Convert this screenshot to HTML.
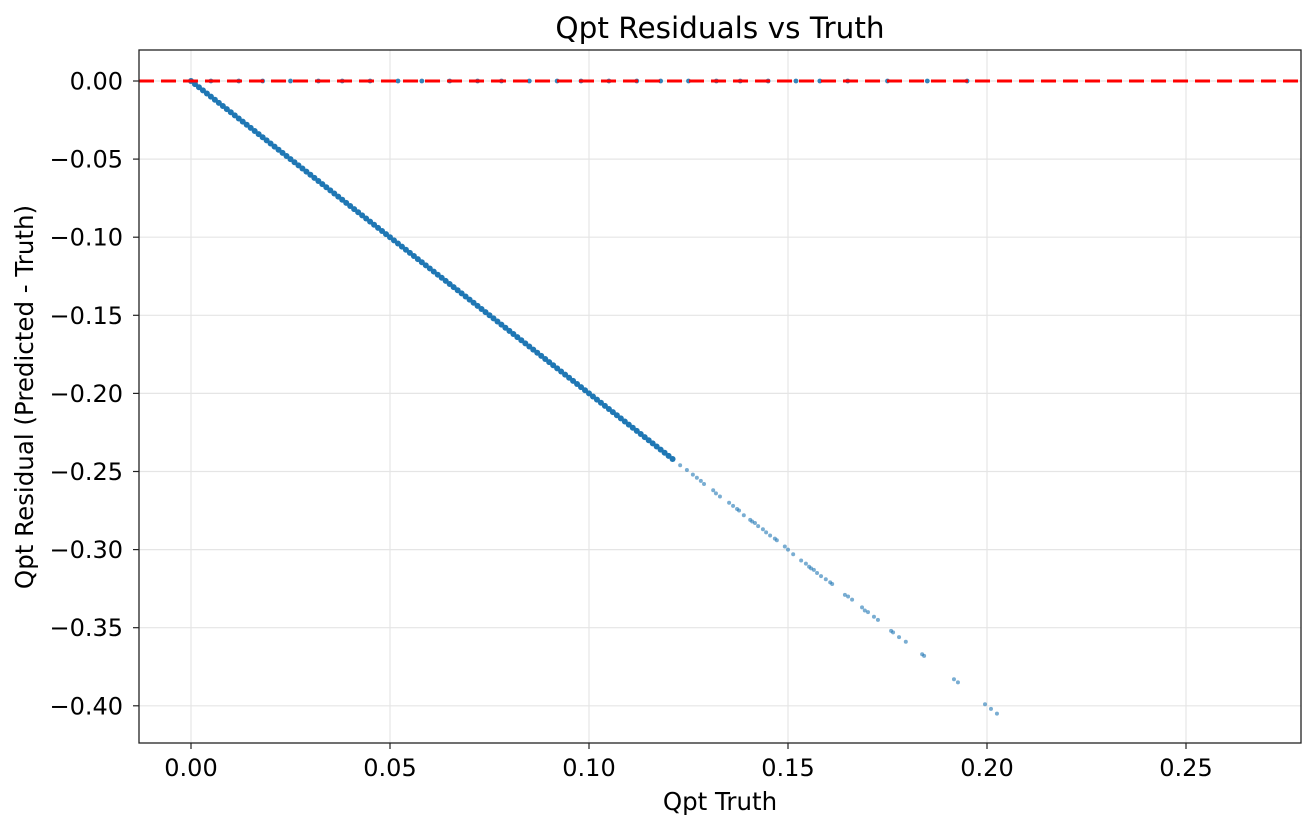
<!DOCTYPE html>
<html><head><meta charset="utf-8"><style>
body{margin:0;background:#fff;}
svg text{font-family:"DejaVu Sans","Liberation Sans",sans-serif;fill:#000;}
</style></head><body>
<svg id="chart" width="1316" height="829" xmlns="http://www.w3.org/2000/svg">
<rect width="1316" height="829" fill="#fff"/>
<g id="grid"></g>
<g id="points"></g>
<line x1="139" x2="1301" y1="81" y2="81" stroke="#ff0000" stroke-width="3" stroke-dasharray="15,7"/>
<rect x="139" y="50" width="1162" height="693" fill="none" stroke="#222" stroke-width="1.3"/>
<g id="ticks"></g>
<text x="720" y="38" font-size="29.5" text-anchor="middle">Qpt Residuals vs Truth</text>
<text x="720" y="810" font-size="24.5" text-anchor="middle">Qpt Truth</text>
<text transform="translate(33,397) rotate(-90)" font-size="24.5" text-anchor="middle">Qpt Residual (Predicted - Truth)</text>
</svg>
<script>
const xTicks=[0,0.05,0.10,0.15,0.20,0.25];
const xTickLabels=["0.00","0.05","0.10","0.15","0.20","0.25"];
const yTicks=[0,-0.05,-0.10,-0.15,-0.20,-0.25,-0.30,-0.35,-0.40];
const yTickLabels=["0.00","\u22120.05","\u22120.10","\u22120.15","\u22120.20","\u22120.25","\u22120.30","\u22120.35","\u22120.40"];
const denseTruth=[0,0.001,0.002,0.003,0.004,0.005,0.006,0.007,0.008,0.009,0.010,0.011,0.012,0.013,0.014,0.015,0.016,0.017,0.018,0.019,0.020,0.021,0.022,0.023,0.024,0.025,0.026,0.027,0.028,0.029,0.030,0.031,0.032,0.033,0.034,0.035,0.036,0.037,0.038,0.039,0.040,0.041,0.042,0.043,0.044,0.045,0.046,0.047,0.048,0.049,0.050,0.051,0.052,0.053,0.054,0.055,0.056,0.057,0.058,0.059,0.060,0.061,0.062,0.063,0.064,0.065,0.066,0.067,0.068,0.069,0.070,0.071,0.072,0.073,0.074,0.075,0.076,0.077,0.078,0.079,0.080,0.081,0.082,0.083,0.084,0.085,0.086,0.087,0.088,0.089,0.090,0.091,0.092,0.093,0.094,0.095,0.096,0.097,0.098,0.099,0.100,0.101,0.102,0.103,0.104,0.105,0.106,0.107,0.108,0.109,0.110,0.111,0.112,0.113,0.114,0.115,0.116,0.117,0.118,0.119,0.120,0.121];
const denseResid=[0,-0.002,-0.004,-0.006,-0.008,-0.010,-0.012,-0.014,-0.016,-0.018,-0.020,-0.022,-0.024,-0.026,-0.028,-0.030,-0.032,-0.034,-0.036,-0.038,-0.040,-0.042,-0.044,-0.046,-0.048,-0.050,-0.052,-0.054,-0.056,-0.058,-0.060,-0.062,-0.064,-0.066,-0.068,-0.070,-0.072,-0.074,-0.076,-0.078,-0.080,-0.082,-0.084,-0.086,-0.088,-0.090,-0.092,-0.094,-0.096,-0.098,-0.100,-0.102,-0.104,-0.106,-0.108,-0.110,-0.112,-0.114,-0.116,-0.118,-0.120,-0.122,-0.124,-0.126,-0.128,-0.130,-0.132,-0.134,-0.136,-0.138,-0.140,-0.142,-0.144,-0.146,-0.148,-0.150,-0.152,-0.154,-0.156,-0.158,-0.160,-0.162,-0.164,-0.166,-0.168,-0.170,-0.172,-0.174,-0.176,-0.178,-0.180,-0.182,-0.184,-0.186,-0.188,-0.190,-0.192,-0.194,-0.196,-0.198,-0.200,-0.202,-0.204,-0.206,-0.208,-0.210,-0.212,-0.214,-0.216,-0.218,-0.220,-0.222,-0.224,-0.226,-0.228,-0.230,-0.232,-0.234,-0.236,-0.238,-0.240,-0.242];
const sparseTruth=[0.1229,0.1246,0.1261,0.1271,0.1281,0.1289,0.1312,0.1319,0.1329,0.1352,0.1362,0.1372,0.1377,0.1389,0.1405,0.1410,0.1417,0.1425,0.1437,0.1445,0.1455,0.1467,0.1472,0.1492,0.1500,0.1513,0.1533,0.1545,0.1553,0.1558,0.1565,0.1573,0.1583,0.1595,0.1606,0.1611,0.1643,0.1651,0.1661,0.1686,0.1693,0.1701,0.1716,0.1726,0.1759,0.1764,0.1779,0.1796,0.1837,0.1842,0.1917,0.1927,0.1995,0.2010,0.2025];
const sparseResid=[-0.246,-0.249,-0.252,-0.254,-0.256,-0.258,-0.262,-0.264,-0.266,-0.270,-0.272,-0.274,-0.275,-0.278,-0.281,-0.282,-0.283,-0.285,-0.287,-0.289,-0.291,-0.293,-0.294,-0.298,-0.300,-0.303,-0.307,-0.309,-0.311,-0.312,-0.313,-0.315,-0.317,-0.319,-0.321,-0.322,-0.329,-0.330,-0.332,-0.337,-0.339,-0.340,-0.343,-0.345,-0.352,-0.353,-0.356,-0.359,-0.367,-0.368,-0.383,-0.385,-0.399,-0.402,-0.405];
const zeroTruth=[0.005,0.012,0.018,0.025,0.032,0.038,0.045,0.052,0.058,0.065,0.072,0.078,0.085,0.092,0.098,0.105,0.112,0.118,0.125,0.132,0.138,0.145,0.152,0.158,0.165,0.175,0.185,0.195];
const zeroResid=[0,0,0,0,0,0,0,0,0,0,0,0,0,0,0,0,0,0,0,0,0,0,0,0,0,0,0,0];
const NS="http://www.w3.org/2000/svg";
const X=v=>191+v*3980, Y=v=>81-v*1562;
function mk(parent,tag,attrs){const e=document.createElementNS(NS,tag);for(const k in attrs)e.setAttribute(k,attrs[k]);parent.appendChild(e);return e;}
const grid=document.getElementById('grid'),ticks=document.getElementById('ticks'),pts=document.getElementById('points');
xTicks.forEach((t,i)=>{
 const g=mk(grid,'line',{x1:X(t),x2:X(t),y1:50,y2:743,stroke:'#e5e5e5','stroke-width':1.2});
 
 
 const tk=mk(ticks,'line',{x1:X(t),x2:X(t),y1:743,y2:749,stroke:'#222','stroke-width':1.2});
 
 
 const tx=mk(ticks,'text',{x:X(t),y:776,'font-size':24,'text-anchor':'middle'});tx.textContent=xTickLabels[i];
 
 
});
yTicks.forEach((t,i)=>{
 const g=mk(grid,'line',{x1:139,x2:1301,y1:Y(t),y2:Y(t),stroke:'#e5e5e5','stroke-width':1.2});
 
 
 const tk=mk(ticks,'line',{x1:133,x2:139,y1:Y(t),y2:Y(t),stroke:'#222','stroke-width':1.2});
 
 
 const tx=mk(ticks,'text',{x:123,y:Y(t)+8.5,'font-size':24,'text-anchor':'end'});tx.textContent=yTickLabels[i];
 
 
});
function drawPts(xs,ys,r,op){xs.forEach((v,i)=>{
 const c=mk(pts,'circle',{cx:X(v),cy:Y(ys[i]),r:r,fill:'#1f77b4','fill-opacity':op});
 
 
});}
drawPts(zeroTruth,zeroResid,2.4,0.9);
drawPts(denseTruth,denseResid,3,1);
drawPts(sparseTruth,sparseResid,2,0.6);
</script>
</body></html>
